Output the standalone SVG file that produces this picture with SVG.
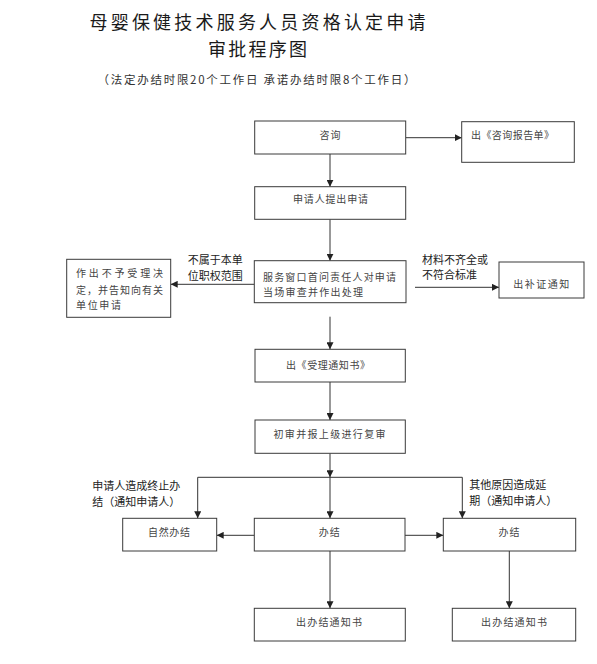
<svg xmlns="http://www.w3.org/2000/svg" width="597" height="664" viewBox="0 0 597 664">
<style>
.bg{fill:#fff}
.box{fill:#fff;stroke:#3a3a3a;stroke-width:1}
.bt{font-family:"Noto Sans CJK SC","Liberation Sans",sans-serif;font-size:10px;fill:#444;dominant-baseline:central}
.lb{font-family:"Noto Sans CJK SC","Liberation Sans",sans-serif;font-size:11px;fill:#222;dominant-baseline:central}
.tt{font-family:"Noto Sans CJK SC","Liberation Sans",sans-serif;font-size:18px;fill:#1a1a1a;text-anchor:middle}
.st{font-family:"Noto Sans CJK SC","Liberation Sans",sans-serif;font-size:11.5px;fill:#333;text-anchor:middle}
.c{fill:none;stroke:#333;stroke-width:1}
.m{text-anchor:middle}
</style>
<defs>
<marker id="ah" markerUnits="userSpaceOnUse" markerWidth="8" markerHeight="7" refX="7" refY="3.5" orient="auto">
<path d="M0,0 L7,3.5 L0,7 z" fill="#222"/>
</marker>
</defs>
<rect class="bg" x="0" y="0" width="597" height="664"/>
<g id="title">
<text class="tt" x="257.5" y="29" textLength="336" lengthAdjust="spacing">母婴保健技术服务人员资格认定申请</text>
<text class="tt" x="257.5" y="55.5" textLength="99" lengthAdjust="spacing">审批程序图</text>
<text class="st" x="256.5" y="84" textLength="318" lengthAdjust="spacing">（法定办结时限20个工作日 承诺办结时限8个工作日）</text>
</g>
<g id="connectors">
<line class="c" x1="330" y1="154" x2="330" y2="186.7" marker-end="url(#ah)"/>
<line class="c" x1="405.7" y1="137.7" x2="461.7" y2="137.7" marker-end="url(#ah)"/>
<line class="c" x1="330" y1="219.3" x2="330" y2="260.7" marker-end="url(#ah)"/>
<line class="c" x1="254.3" y1="284.3" x2="170.7" y2="284.3" marker-end="url(#ah)"/>
<line class="c" x1="415" y1="287.3" x2="499" y2="287.3" marker-end="url(#ah)"/>
<line class="c" x1="330" y1="316.7" x2="330" y2="349.3" marker-end="url(#ah)"/>
<line class="c" x1="330" y1="382" x2="330" y2="420" marker-end="url(#ah)"/>
<line class="c" x1="330" y1="453.3" x2="330" y2="477.3" marker-end="url(#ah)"/>
<line class="c" x1="330" y1="477.3" x2="330" y2="518.3" marker-end="url(#ah)"/>
<polyline class="c" points="330,477.3 197.7,477.3 197.7,518.3" marker-end="url(#ah)"/>
<polyline class="c" points="330,477.3 462.3,477.3 462.3,518.3" marker-end="url(#ah)"/>
<line class="c" x1="254.3" y1="535.3" x2="216.7" y2="535.3" marker-end="url(#ah)"/>
<line class="c" x1="405" y1="535.3" x2="443.3" y2="535.3" marker-end="url(#ah)"/>
<line class="c" x1="330" y1="551" x2="330" y2="608.3" marker-end="url(#ah)"/>
<line class="c" x1="509.3" y1="551" x2="509.3" y2="608.3" marker-end="url(#ah)"/>
</g>
<g id="labels">
<text class="lb" x="187.7" y="259" textLength="55" lengthAdjust="spacing">不属于本单</text>
<text class="lb" x="187.7" y="275" textLength="55" lengthAdjust="spacing">位职权范围</text>
<text class="lb" x="422" y="259" textLength="66" lengthAdjust="spacing">材料不齐全或</text>
<text class="lb" x="422" y="274" textLength="55" lengthAdjust="spacing">不符合标准</text>
<text class="lb" x="92.3" y="485" textLength="88" lengthAdjust="spacing">申请人造成终止办</text>
<text class="lb" x="92.3" y="500.7" textLength="88" lengthAdjust="spacing">结（通知申请人）</text>
<text class="lb" x="469.3" y="484" textLength="77" lengthAdjust="spacing">其他原因造成延</text>
<text class="lb" x="469.3" y="500" textLength="88" lengthAdjust="spacing">期（通知申请人）</text>
</g>
<g id="n-consult">
<rect class="box" x="254.7" y="121" width="151" height="33"/>
<text class="bt m" x="330" y="134" textLength="21" lengthAdjust="spacing">咨询</text>
</g>
<g id="n-report">
<rect class="box" x="461.7" y="121.7" width="112.6" height="40.6"/>
<text class="bt" x="471" y="134" textLength="83" lengthAdjust="spacing">出《咨询报告单》</text>
</g>
<g id="n-apply">
<rect class="box" x="254.7" y="186.7" width="151" height="32.6"/>
<text class="bt m" x="330.5" y="198.3" textLength="75" lengthAdjust="spacing">申请人提出申请</text>
</g>
<g id="n-service">
<rect class="box" x="254.3" y="260.7" width="151.7" height="42"/>
<text class="bt" x="263" y="276" textLength="133" lengthAdjust="spacing">服务窗口首问责任人对申请</text>
<text class="bt" x="263" y="291.7" textLength="100" lengthAdjust="spacing">当场审查并作出处理</text>
</g>
<g id="n-reject">
<rect class="box" x="66.7" y="259.3" width="104" height="58"/>
<text class="bt" x="76" y="272.5" textLength="87" lengthAdjust="spacing">作出不予受理决</text>
<text class="bt" x="76" y="289" textLength="87" lengthAdjust="spacing">定，并告知向有关</text>
<text class="bt" x="76" y="304.5" textLength="45" lengthAdjust="spacing">单位申请</text>
</g>
<g id="n-supplement">
<rect class="box" x="499" y="262" width="85" height="36"/>
<text class="bt m" x="541.3" y="283" textLength="56" lengthAdjust="spacing">出补证通知</text>
</g>
<g id="n-accept">
<rect class="box" x="255" y="349.3" width="150.3" height="32.7"/>
<text class="bt m" x="328" y="364" textLength="84" lengthAdjust="spacing">出《受理通知书》</text>
</g>
<g id="n-review">
<rect class="box" x="255" y="420" width="150.3" height="33.3"/>
<text class="bt m" x="329.5" y="433.3" textLength="112" lengthAdjust="spacing">初审并报上级进行复审</text>
</g>
<g id="n-natural">
<rect class="box" x="122.7" y="518.3" width="94" height="32.7"/>
<text class="bt m" x="169" y="531" textLength="42" lengthAdjust="spacing">自然办结</text>
</g>
<g id="n-done">
<rect class="box" x="254.3" y="518.3" width="150.7" height="32.7"/>
<text class="bt m" x="329.3" y="531" textLength="21" lengthAdjust="spacing">办结</text>
</g>
<g id="n-done2">
<rect class="box" x="443.3" y="518.3" width="132.4" height="32.7"/>
<text class="bt m" x="509" y="531" textLength="21" lengthAdjust="spacing">办结</text>
</g>
<g id="n-notice">
<rect class="box" x="254.3" y="608.3" width="151" height="32.7"/>
<text class="bt m" x="329" y="621" textLength="66" lengthAdjust="spacing">出办结通知书</text>
</g>
<g id="n-notice2">
<rect class="box" x="452.3" y="608.3" width="123.4" height="32.7"/>
<text class="bt m" x="514" y="621" textLength="66" lengthAdjust="spacing">出办结通知书</text>
</g>
</svg>
